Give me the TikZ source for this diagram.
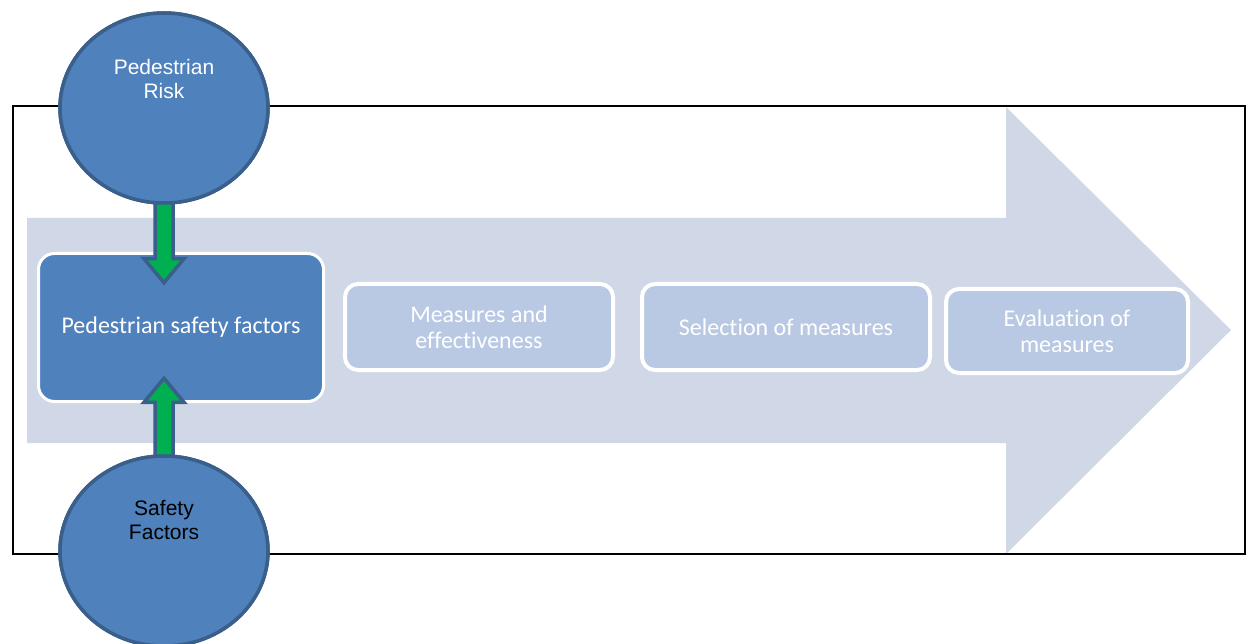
\documentclass[tikz,border=0pt]{standalone}
\usepackage{fontspec}
\setmainfont{Carlito}[RawFeature={-liga}]
\newfontfamily\arialfont{Liberation Sans}
\usetikzlibrary{shapes.geometric}
\definecolor{arrowbg}{HTML}{D0D8E8}
\definecolor{darkfill}{HTML}{4F81BD}
\definecolor{darkedge}{HTML}{3A5F8B}
\definecolor{lightfill}{HTML}{B9C9E3}
\definecolor{greenfill}{HTML}{00B050}
\tikzset{
  circ/.style={ellipse, draw=darkedge, line width=3.5pt, fill=darkfill,
    minimum width=208pt, minimum height=190pt, inner sep=0pt},
  circtext/.style={font=\arialfont\fontsize{21}{24}\selectfont, align=center, inner sep=0pt},
  mainbox/.style={draw=white, line width=3pt, fill=darkfill, rounded corners=16pt,
    minimum width=285pt, minimum height=148pt, text=white, inner sep=0pt,
    font=\fontsize{24}{26}\selectfont, align=center},
  stepbox/.style={draw=white, line width=4pt, fill=lightfill, rounded corners=13pt,
    text=white, inner sep=0pt, font=\fontsize{24}{26}\selectfont, align=center},
  blockarrow/.style={draw=darkedge, line width=3.5pt, fill=greenfill, line join=miter},
}
\begin{document}
\begin{tikzpicture}[x=1pt,y=-1pt]
\useasboundingbox[fill=white] (0,0) rectangle (1250,644);
% big background arrow
\fill[arrowbg] (27,218) -- (1006,218) -- (1006,107) -- (1231,330) -- (1006,554)
  -- (1006,443) -- (27,443) -- cycle;
% frame
\draw[line width=1.5pt] (13,106) rectangle (1245,554);
% boxes
\node[mainbox] (psf) at (181,327.5) {Pedestrian safety factors};
\node[stepbox, minimum width=268pt, minimum height=86pt] (mae) at (479,327) {Measures and\\effectiveness};
\node[stepbox, minimum width=288pt, minimum height=86pt] (som) at (786,327) {Selection of measures};
\node[stepbox, minimum width=242pt, minimum height=84pt] (eom) at (1067,331) {Evaluation of\\measures};
% circles (positions)
\node[circ] (pr) at (164,108) {};
\node[circ] (sf) at (164,551) {};
% block arrows
\draw[blockarrow] (pr.south) ++(-9,-2) -- ++(0,56) -- ++(-11,0) -- ++(20,24) -- ++(20,-24)
  -- ++(-11,0) -- ++(0,-56) -- cycle;
\draw[blockarrow] (sf.north) ++(-9,2) -- ++(0,-54) -- ++(-11,0) -- ++(20,-24) -- ++(20,24)
  -- ++(-11,0) -- ++(0,54) -- cycle;
% circles redrawn on top
\node[circ, label={[circtext, text=white, yshift=29pt]center:{Pedestrian\\Risk}}] (pr2) at (pr.center) {};
\node[circ, label={[circtext, text=black, yshift=31pt]center:{Safety\\Factors}}] (sf2) at (sf.center) {};
\end{tikzpicture}
\end{document}
